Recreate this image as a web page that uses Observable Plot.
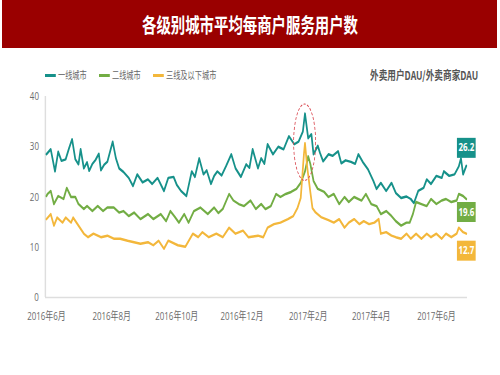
<!DOCTYPE html>
<html><head><meta charset="utf-8">
<script src="https://cdn.jsdelivr.net/npm/d3@7"></script>
<script src="https://cdn.jsdelivr.net/npm/@observablehq/plot@0.6"></script>
<style>
body{margin:0;background:#fff;font-family:"Noto Sans CJK SC","Noto Sans",sans-serif;}
#wrap{position:relative;width:500px;height:375px;overflow:hidden;background:#fff;}
#titlebar{position:absolute;left:2px;top:0;width:495px;height:48px;background:#9a0000;display:flex;align-items:center;justify-content:center;}
#titlebar span{color:#fff;font-size:20px;font-weight:bold;transform:scaleX(0.72);white-space:nowrap;display:inline-block;}
#legend{position:absolute;left:45px;top:68px;transform:scaleX(0.72);transform-origin:left center;display:flex;gap:17px;font-size:10px;color:#666;line-height:14px;white-space:nowrap;}
#legend .item{display:flex;align-items:center;}
#legend .sw{width:15px;height:3px;margin-right:3px;}
#unit{position:absolute;right:22px;top:68px;font-size:12px;font-weight:bold;color:#555;transform:scaleX(0.72);transform-origin:right center;line-height:14px;white-space:nowrap;}
#chart{position:absolute;left:0;top:48px;}
</style>
</head><body>
<div id="wrap">
  <div id="titlebar"><span id="title"></span></div>
  <div id="legend"></div>
  <div id="unit"></div>
  <div id="chart"></div>
</div>
<script>
const titleText = "各级别城市平均每商户服务用户数";
const unitText = "外卖用户DAU/外卖商家DAU";
const seriesNames = ["一线城市", "二线城市", "三线及以下城市"];
const seriesColors = ["#16918a", "#72ad44", "#f3b73b"];
const endLabels = ["26.2", "19.6", "12.7"];
const yTicks = [0, 10, 20, 30, 40];
const xTickDates = ["2016-06-01", "2016-08-01", "2016-10-01", "2016-12-01", "2017-02-01", "2017-04-01", "2017-06-01"];
const xDomain = ["2016-05-31", "2017-06-30"];
const yDomain = [0, 40];
// annotation: Spring Festival peak (center date, center value, half-width days, half-height value)
const peakCenterDate = "2017-01-29";
const peakCenterValue = 30.8;
const peakHalfDays = 10.3;
const peakHalfValue = 7.6;

const tier1 = [
["2016-06-01",28.5],["2016-06-05",29.5],["2016-06-09",25.1],["2016-06-12",29],["2016-06-15",27.2],["2016-06-19",27.5],["2016-06-22",29.6],["2016-06-25",31.5],["2016-06-28",27.5],["2016-07-01",26.5],["2016-07-03",29.5],["2016-07-06",25.7],["2016-07-09",26.9],["2016-07-11",25.2],["2016-07-14",26.6],["2016-07-17",27.4],["2016-07-20",28.6],["2016-07-22",25.3],["2016-07-25",26.4],["2016-07-28",27],["2016-08-02",31],["2016-08-05",27.7],["2016-08-08",25.7],["2016-08-12",25],["2016-08-17",23.8],["2016-08-21",22.2],["2016-08-25",24.5],["2016-08-30",22.9],["2016-09-04",23.5],["2016-09-08",22.6],["2016-09-13",23.8],["2016-09-19",21.2],["2016-09-23",23.8],["2016-09-28",24],["2016-10-01",22.4],["2016-10-05",21.2],["2016-10-10",20.2],["2016-10-15",25.1],["2016-10-18",24],["2016-10-22",27.7],["2016-10-26",24.5],["2016-10-29",25.3],["2016-11-02",22.6],["2016-11-05",24.2],["2016-11-08",25.1],["2016-11-12",24.3],["2016-11-16",26.1],["2016-11-21",28.5],["2016-11-25",25.7],["2016-11-30",24],["2016-12-05",26.5],["2016-12-08",25.8],["2016-12-11",29.5],["2016-12-16",25.7],["2016-12-19",27.7],["2016-12-22",26.6],["2016-12-25",30.5],["2016-12-30",28.5],["2017-01-04",30],["2017-01-09",29.5],["2017-01-14",32.1],["2017-01-19",30.5],["2017-01-23",31],["2017-01-27",33],["2017-01-29",36.6],["2017-02-01",31.7],["2017-02-04",32.5],["2017-02-06",28.5],["2017-02-10",30.2],["2017-02-12",28.8],["2017-02-15",27.1],["2017-02-20",28.5],["2017-02-24",28.2],["2017-03-01",29.1],["2017-03-04",26.7],["2017-03-08",27.3],["2017-03-13",27],["2017-03-17",26.6],["2017-03-20",28.5],["2017-03-24",27],["2017-03-29",25.5],["2017-04-03",23.2],["2017-04-06",21.6],["2017-04-10",22.8],["2017-04-15",21.2],["2017-04-20",22.8],["2017-04-24",20.8],["2017-04-29",19.8],["2017-05-04",20.1],["2017-05-08",19.6],["2017-05-11",18.8],["2017-05-15",21.2],["2017-05-20",21.8],["2017-05-23",23.5],["2017-05-27",22.6],["2017-06-01",24.2],["2017-06-06",23.8],["2017-06-08",25.1],["2017-06-13",24.2],["2017-06-18",24.5],["2017-06-22",26.1],["2017-06-24",27.7],["2017-06-26",24.5],["2017-06-29",26.2]
];
const tier2 = [
["2016-06-01",20.2],["2016-06-02",20.6],["2016-06-05",21.2],["2016-06-08",18.6],["2016-06-12",20.2],["2016-06-17",19.6],["2016-06-20",21.8],["2016-06-24",20],["2016-06-28",20],["2016-07-01",18.6],["2016-07-06",17.6],["2016-07-09",18.2],["2016-07-14",17.2],["2016-07-19",18.2],["2016-07-24",17.2],["2016-07-28",17.9],["2016-08-03",17.9],["2016-08-08",16.9],["2016-08-12",17.2],["2016-08-17",16.2],["2016-08-22",16.9],["2016-08-28",15.6],["2016-09-04",16.6],["2016-09-09",15.6],["2016-09-16",16.6],["2016-09-21",15.2],["2016-09-25",17.2],["2016-09-29",16.1],["2016-10-03",14.9],["2016-10-08",16.6],["2016-10-12",14.9],["2016-10-17",17.2],["2016-10-23",17.9],["2016-10-30",16.6],["2016-11-05",17.9],["2016-11-09",16.8],["2016-11-13",17.6],["2016-11-19",20.6],["2016-11-23",19.3],["2016-11-28",18.6],["2016-12-03",18.2],["2016-12-09",19.3],["2016-12-14",17.6],["2016-12-19",18.6],["2016-12-23",17.6],["2016-12-28",18.2],["2017-01-02",20.6],["2017-01-06",20],["2017-01-11",20.6],["2017-01-16",21],["2017-01-21",21.6],["2017-01-25",22.8],["2017-01-29",25.1],["2017-02-01",28.1],["2017-02-03",26.6],["2017-02-06",23.2],["2017-02-10",21.6],["2017-02-16",21],["2017-02-20",20],["2017-02-25",20.6],["2017-03-02",18.6],["2017-03-07",20],["2017-03-11",19],["2017-03-16",20],["2017-03-23",19.3],["2017-03-27",20.6],["2017-04-01",18.6],["2017-04-06",18.2],["2017-04-10",16.6],["2017-04-15",17.2],["2017-04-20",16.2],["2017-04-24",15.2],["2017-04-29",14.3],["2017-05-04",14.9],["2017-05-07",14.9],["2017-05-10",16.6],["2017-05-13",19],["2017-05-18",18.6],["2017-05-23",18.2],["2017-05-27",19.6],["2017-06-01",18.6],["2017-06-06",19.3],["2017-06-10",19.6],["2017-06-15",19],["2017-06-20",19.3],["2017-06-22",20.6],["2017-06-26",20.2],["2017-06-29",19.6]
];
const tier3 = [
["2016-06-01",15.6],["2016-06-05",16.6],["2016-06-08",14.3],["2016-06-11",15.9],["2016-06-16",14.9],["2016-06-19",15.9],["2016-06-24",14.9],["2016-06-26",15.9],["2016-07-01",14.3],["2016-07-06",12.7],["2016-07-10",12],["2016-07-15",12.7],["2016-07-22",12],["2016-07-28",12.3],["2016-08-03",11.7],["2016-08-09",11.7],["2016-08-16",11.3],["2016-08-22",11],["2016-08-28",10.7],["2016-09-04",11],["2016-09-09",10.4],["2016-09-14",11.3],["2016-09-19",9.7],["2016-09-23",11.3],["2016-10-02",10.4],["2016-10-09",10.1],["2016-10-16",12.7],["2016-10-21",12],["2016-10-25",13],["2016-10-31",12],["2016-11-07",12.7],["2016-11-13",12],["2016-11-19",13.9],["2016-11-25",12.7],["2016-12-02",13.3],["2016-12-07",12],["2016-12-16",12.3],["2016-12-21",12],["2016-12-25",13.9],["2016-12-31",14.6],["2017-01-06",14.9],["2017-01-13",15.6],["2017-01-18",16.2],["2017-01-22",17.8],["2017-01-25",19.8],["2017-01-28",28.5],["2017-01-29",30.7],["2017-01-31",26.1],["2017-02-03",21],["2017-02-05",17.8],["2017-02-08",16.9],["2017-02-13",16],["2017-02-20",15.4],["2017-02-25",14.9],["2017-03-02",15.6],["2017-03-07",13.9],["2017-03-11",14.9],["2017-03-16",15.6],["2017-03-21",14.6],["2017-03-25",15.2],["2017-03-30",14.6],["2017-04-04",14.9],["2017-04-08",15.6],["2017-04-10",12.7],["2017-04-15",13],["2017-04-20",12.3],["2017-04-24",12],["2017-04-29",11.7],["2017-05-04",12.7],["2017-05-08",11.7],["2017-05-13",12.7],["2017-05-18",11.7],["2017-05-23",12.7],["2017-05-27",12],["2017-06-01",12.7],["2017-06-06",11.7],["2017-06-10",12.7],["2017-06-15",12],["2017-06-20",12.7],["2017-06-22",13.9],["2017-06-26",13],["2017-06-29",12.7]
];

// ---- build ----
document.getElementById("title").textContent = titleText;
document.getElementById("unit").textContent = unitText;
const legend = document.getElementById("legend");
seriesNames.forEach((n, i) => {
  const it = document.createElement("div"); it.className = "item";
  const sw = document.createElement("span"); sw.className = "sw"; sw.style.background = seriesColors[i];
  const tx = document.createElement("span"); tx.textContent = n;
  it.appendChild(sw); it.appendChild(tx); legend.appendChild(it);
});

const seriesData = [tier1, tier2, tier3];
const rows = seriesData.flatMap((arr, i) => arr.map(([d, v]) => ({date: new Date(d), value: v, series: seriesNames[i]})));
const endRows = seriesData.map((arr, i) => {
  const [d, v] = arr[arr.length - 1];
  return {date: new Date(d), value: v, series: seriesNames[i], label: endLabels[i]};
});

const SQ = 0.72;           // horizontal squeeze of the reference picture
const W = Math.round(500 / SQ), H = 285;
const boxOffsets = [-18, 13, 17];
const boxSymbol = {draw(ctx) { ctx.moveTo(-13, -10); ctx.lineTo(13, -10); ctx.lineTo(13, 10); ctx.lineTo(-13, 10); ctx.closePath(); }};

const chart = Plot.plot({
  width: W, height: H,
  marginLeft: 62.5, marginRight: 45.8, marginTop: 48, marginBottom: 36,
  style: {fontFamily: '"Open Sans","Noto Sans CJK SC",sans-serif', fontSize: "11px", color: "#6b6b6b", background: "transparent", overflow: "visible"},
  x: {type: "utc", domain: xDomain.map(d => new Date(d)), ticks: xTickDates.map(d => new Date(d)),
      tickFormat: d => `${d.getUTCFullYear()}年${d.getUTCMonth() + 1}月`, tickSize: 0, tickPadding: 15, label: null},
  y: {domain: yDomain, ticks: yTicks, tickSize: 0, tickPadding: 9, label: null},
  color: {domain: seriesNames, range: seriesColors},
  marks: [
    Plot.ruleY([yDomain[0]], {stroke: "#dedede", strokeWidth: 1.5}),
    Plot.ruleX([new Date(xDomain[0])], {y1: yDomain[0], y2: yDomain[1], stroke: "#dedede", strokeWidth: 2}),
    Plot.line(rows, {x: "date", y: "value", z: "series", stroke: "series", strokeWidth: 2.4, strokeLinejoin: "round"}),
    ...endRows.flatMap((r, i) => [
      Plot.dot([r], {x: "date", y: "value", dy: boxOffsets[i], symbol: boxSymbol, r: 10, fill: "series"}),
      Plot.text([r], {x: "date", y: "value", dy: boxOffsets[i], text: "label", fill: "white", fontWeight: "bold", fontSize: 11})
    ])
  ]
});

// Spring Festival dashed ellipse, placed with the chart's own scales
const xs = chart.scale("x"), ys = chart.scale("y");
const c = new Date(peakCenterDate);
const cx = xs.apply(c), cy = ys.apply(peakCenterValue);
const rx = xs.apply(new Date(c.getTime() + peakHalfDays * 86400000)) - cx;
const ry = ys.apply(peakCenterValue - peakHalfValue) - cy;
d3.select(chart).append("ellipse")
  .attr("cx", cx).attr("cy", cy).attr("rx", rx).attr("ry", ry)
  .attr("fill", "none").attr("stroke", "#d9474f").attr("stroke-width", 1.1).attr("stroke-dasharray", "3,2");

chart.setAttribute("width", 500);
chart.setAttribute("height", H);
chart.setAttribute("preserveAspectRatio", "none");
chart.style.width = "500px";
chart.style.height = H + "px";
chart.style.maxWidth = "none";
document.getElementById("chart").appendChild(chart);
</script>
</body></html>
